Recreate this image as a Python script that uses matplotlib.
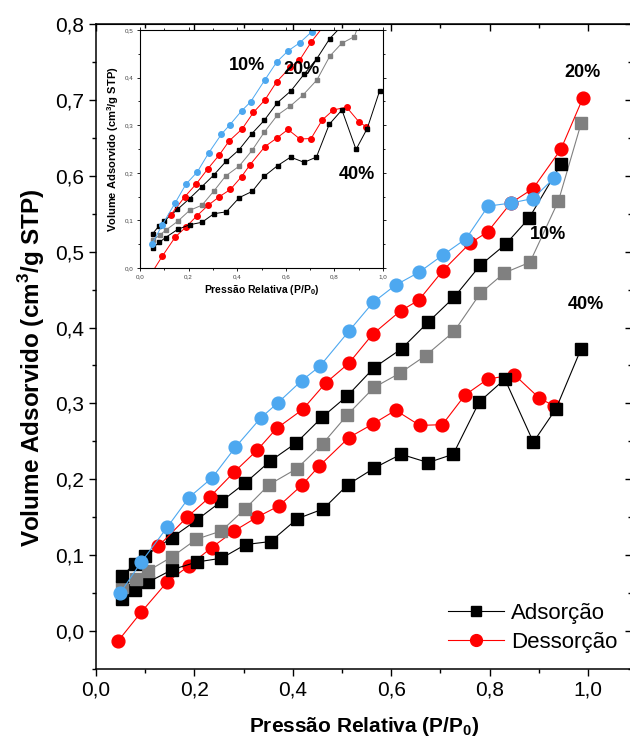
"""Isotermas de adsorcao/dessorcao de N2 para 10%, 20% e 40% (grafico principal + inset)"""
import matplotlib
matplotlib.use("Agg")
import matplotlib.pyplot as plt
from matplotlib.ticker import MultipleLocator, FuncFormatter
from matplotlib.lines import Line2D

plt.rcParams['font.family'] = ['Liberation Sans', 'DejaVu Sans']
plt.rcParams['mathtext.fontset'] = 'custom'
plt.rcParams['mathtext.rm'] = 'Liberation Sans'
plt.rcParams['mathtext.bf'] = 'Liberation Sans:bold'

# 10% - adsorcao (quadrados pretos) e dessorcao (circulos azuis)
x10_ads = [0.052, 0.079, 0.100, 0.154, 0.204, 0.255, 0.303, 0.354, 0.407, 0.460,
           0.511, 0.565, 0.621, 0.675, 0.728, 0.781, 0.833, 0.880, 0.945]
y10_ads = [0.072, 0.089, 0.099, 0.123, 0.146, 0.171, 0.195, 0.224, 0.248, 0.282,
           0.310, 0.347, 0.372, 0.407, 0.440, 0.482, 0.510, 0.544, 0.615]
x10_des = [0.049, 0.092, 0.145, 0.189, 0.236, 0.283, 0.335, 0.370, 0.418, 0.455,
           0.515, 0.563, 0.609, 0.657, 0.706, 0.752, 0.797, 0.843, 0.888, 0.931]
y10_des = [0.050, 0.091, 0.137, 0.176, 0.202, 0.242, 0.281, 0.301, 0.330, 0.349,
           0.396, 0.433, 0.456, 0.473, 0.496, 0.517, 0.560, 0.564, 0.570, 0.597]

# 20% - adsorcao (quadrados cinza) e dessorcao (circulos vermelhos)
x20_ads = [0.052, 0.081, 0.105, 0.155, 0.204, 0.255, 0.303, 0.352, 0.408, 0.461,
           0.511, 0.565, 0.618, 0.670, 0.728, 0.781, 0.830, 0.882, 0.940, 0.986]
y20_ads = [0.058, 0.069, 0.079, 0.098, 0.121, 0.132, 0.161, 0.193, 0.214, 0.247,
           0.285, 0.321, 0.340, 0.363, 0.395, 0.445, 0.472, 0.486, 0.567, 0.669]
x20_des = [0.127, 0.185, 0.232, 0.280, 0.327, 0.367, 0.420, 0.467, 0.514, 0.562,
           0.619, 0.656, 0.705, 0.760, 0.796, 0.843, 0.888, 0.945, 0.990]
y20_des = [0.112, 0.150, 0.177, 0.209, 0.238, 0.267, 0.292, 0.327, 0.353, 0.391,
           0.422, 0.436, 0.475, 0.511, 0.526, 0.564, 0.583, 0.635, 0.703]

# 40% - adsorcao (quadrados pretos) e dessorcao (circulos vermelhos)
x40_ads = [0.052, 0.080, 0.105, 0.155, 0.205, 0.255, 0.304, 0.355, 0.409, 0.462,
           0.512, 0.566, 0.620, 0.675, 0.726, 0.779, 0.831, 0.889, 0.935, 0.986]
y40_ads = [0.042, 0.054, 0.064, 0.081, 0.091, 0.096, 0.114, 0.118, 0.148, 0.161,
           0.193, 0.215, 0.233, 0.222, 0.233, 0.302, 0.332, 0.249, 0.293, 0.372]
x40_des = [0.045, 0.092, 0.145, 0.189, 0.235, 0.281, 0.327, 0.372, 0.418, 0.453,
           0.514, 0.563, 0.609, 0.658, 0.704, 0.750, 0.796, 0.850, 0.901, 0.930]
y40_des = [-0.013, 0.025, 0.065, 0.086, 0.110, 0.132, 0.150, 0.165, 0.192, 0.217,
           0.255, 0.273, 0.291, 0.271, 0.272, 0.311, 0.332, 0.338, 0.307, 0.297]

labels = ["10%", "20%", "40%"]
legend_labels = ["Adsorção", "Dessorção"]

BLUE = '#4da8f0'
RED = '#ff0000'
GRAY = '#808080'

series = [
    (x40_des, y40_des, 'o', RED),
    (x40_ads, y40_ads, 's', 'black'),
    (x20_ads, y20_ads, 's', GRAY),
    (x10_ads, y10_ads, 's', 'black'),
    (x20_des, y20_des, 'o', RED),
    (x10_des, y10_des, 'o', BLUE),
]


def comma(v, pos):
    return f"{v:.1f}".replace('.', ',')


def plot_series(axis, ms_sq, ms_ci, lw):
    for xs, ys, mk, c in series:
        ms = ms_sq if mk == 's' else ms_ci
        axis.plot(xs, ys, color=c, marker=mk, ms=ms, mfc=c, mec=c, lw=lw)


fig = plt.figure(figsize=(6.3, 7.46), dpi=100)

# grafico principal
ax = fig.add_axes([96 / 630, 77 / 746, 536 / 630, 645 / 746])
plot_series(ax, 8.3, 9.2, 0.8)
ax.set_xlim(0, 536 / 492)
ax.set_ylim(-0.05, 0.8)
ax.xaxis.set_major_locator(MultipleLocator(0.2))
ax.xaxis.set_minor_locator(MultipleLocator(0.1))
ax.yaxis.set_major_locator(MultipleLocator(0.1))
ax.yaxis.set_minor_locator(MultipleLocator(0.05))
ax.xaxis.set_major_formatter(FuncFormatter(comma))
ax.yaxis.set_major_formatter(FuncFormatter(comma))
ax.tick_params(which='both', direction='out', width=1, labelsize=15)
ax.tick_params(which='major', length=5)
ax.tick_params(which='minor', length=3)
for s in ax.spines.values():
    s.set_linewidth(1.1)

top = ax.secondary_xaxis('top')
top.xaxis.set_major_locator(MultipleLocator(0.2))
top.xaxis.set_minor_locator(MultipleLocator(0.1))
top.tick_params(which='both', direction='in', labeltop=False, width=1)
top.tick_params(which='major', length=5)
top.tick_params(which='minor', length=3)
right = ax.secondary_yaxis('right')
right.yaxis.set_major_locator(MultipleLocator(0.1))
right.yaxis.set_minor_locator(MultipleLocator(0.05))
right.tick_params(which='both', direction='in', labelright=False, width=1)
right.tick_params(which='major', length=5)
right.tick_params(which='minor', length=3)

ax.set_xlabel(r"Pressão Relativa (P/P$_\mathbf{0}$)", fontsize=15, fontweight='bold')
ax.set_ylabel(r"Volume Adsorvido (cm$^\mathbf{3}$/g STP)", fontsize=17.5, fontweight='bold')
ax.xaxis.set_label_coords(0.5, -0.072)
ax.yaxis.set_label_coords(-0.092, 0.467)

ax.text(0.988, 0.736, labels[1], fontsize=13, fontweight='bold', ha='center', va='center')
ax.text(0.919, 0.522, labels[0], fontsize=13, fontweight='bold', ha='center', va='center')
ax.text(0.996, 0.431, labels[2], fontsize=13, fontweight='bold', ha='center', va='center')

handles = [
    Line2D([], [], color='black', marker='s', ms=7.5, lw=0.8),
    Line2D([], [], color=RED, marker='o', ms=8.5, lw=0.8),
]
fig.legend(handles, legend_labels, loc='center left',
           bbox_to_anchor=(448 / 630, (746 - 628) / 746), bbox_transform=fig.transFigure,
           frameon=False, fontsize=16, handlelength=2.5, handletextpad=0.35,
           labelspacing=0.35, borderpad=0, borderaxespad=0)

# inset
ins = fig.add_axes([140 / 630, (746 - 268) / 746, 243 / 630, 238 / 746])
ins.set_zorder(5)
ins.set_facecolor('white')
plot_series(ins, 3.5, 4.0, 0.7)
ins.set_xlim(0, 1)
ins.set_ylim(0, 0.5)
ins.xaxis.set_major_locator(MultipleLocator(0.2))
ins.xaxis.set_minor_locator(MultipleLocator(0.1))
ins.yaxis.set_major_locator(MultipleLocator(0.1))
ins.yaxis.set_minor_locator(MultipleLocator(0.05))
ins.xaxis.set_major_formatter(FuncFormatter(comma))
ins.yaxis.set_major_formatter(FuncFormatter(comma))
ins.tick_params(which='both', direction='out', width=0.6, labelsize=4.5,
                labelcolor='#444444', pad=2, top=True, right=True)
ins.tick_params(which='major', length=2.5)
ins.tick_params(which='minor', length=1.5)
for s in ins.spines.values():
    s.set_linewidth(0.8)
ins.set_xlabel(r"Pressão Relativa (P/P$_\mathbf{0}$)", fontsize=7.5, fontweight='bold', labelpad=3)
ins.set_ylabel(r"Volume Adsorvido (cm$^\mathbf{3}$/g STP)", fontsize=8, fontweight='bold', labelpad=3)

ins.text(0.44, 0.426, labels[0], fontsize=13, fontweight='bold', ha='center', va='center')
ins.text(0.663, 0.418, labels[1], fontsize=13, fontweight='bold', ha='center', va='center')
ins.text(0.893, 0.197, labels[2], fontsize=13, fontweight='bold', ha='center', va='center')

fig.savefig("out.png", dpi=100)
